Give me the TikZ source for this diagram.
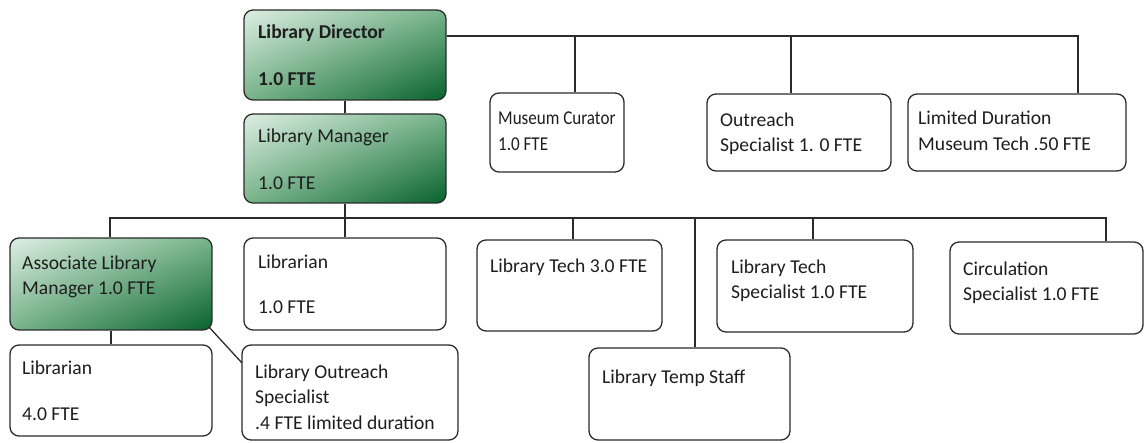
\documentclass[tikz,border=0pt]{standalone}
\usepackage{fontspec}
\setmainfont{Carlito}
\newfontfamily\narrowcarlito[FakeStretch=0.87]{Carlito}
\usetikzlibrary{calc,shadings}
\definecolor{lnc}{HTML}{2B2B2B}
\definecolor{txc}{HTML}{1E1E1E}
\definecolor{gLight}{HTML}{DDEEE2}
\definecolor{gMid}{HTML}{78B48B}
\definecolor{gDark}{HTML}{08622C}
\tikzset{
  box/.style={draw=lnc, line width=1.3pt, rounded corners=9pt, fill=white, inner sep=0pt},
  gbox/.style={box, upper left=gLight, upper right=gMid, lower left=gMid, lower right=gDark},
  lbl/.style={anchor=west, inner sep=0pt, text=txc, font=\fontsize{19.6}{25.5}\selectfont, align=left},
  conn/.style={draw=lnc, line width=1.3pt}
}
\begin{document}
\begin{tikzpicture}[x=1pt,y=-1pt]
\useasboundingbox (0,0) rectangle (1146,443);
% boxes
\node[gbox, minimum width=202pt, minimum height=90pt] (dir) at (345,55) {};
\node[gbox, minimum width=202pt, minimum height=89pt] (mgr) at (345,158.5) {};
\node[box, minimum width=134pt, minimum height=79pt] (mus) at (557,132.5) {};
\node[box, minimum width=184pt, minimum height=77pt] (outr) at (799,132.5) {};
\node[box, minimum width=218pt, minimum height=77pt] (lim) at (1017,132.5) {};
\node[gbox, minimum width=202pt, minimum height=92pt] (assoc) at (111,284) {};
\node[box, minimum width=202pt, minimum height=92pt] (lib1) at (345,284) {};
\node[box, minimum width=185pt, minimum height=91pt] (tech) at (569.5,285.5) {};
\node[box, minimum width=196pt, minimum height=92pt] (techsp) at (815,286) {};
\node[box, minimum width=193pt, minimum height=92pt] (circ) at (1046.5,288) {};
\node[box, minimum width=201pt, minimum height=92pt] (temp) at (689.5,394) {};
\node[box, minimum width=202pt, minimum height=91pt] (lib4) at (111,390.5) {};
\node[box, minimum width=216pt, minimum height=95pt] (los) at (350,392.5) {};
% texts
\node[lbl, font=\fontsize{19.6}{25.5}\selectfont\bfseries] (tdir1) at (258,33) {Library Director};
\node[lbl, font=\fontsize{19.6}{25.5}\selectfont\bfseries] (tdir2) at (258,79) {1.0 FTE};
\node[lbl] (tmgr1) at (258,137) {Library Manager};
\node[lbl] (tmgr2) at (258,183) {1.0 FTE};
\node[lbl, font=\narrowcarlito\fontsize{19.6}{25.5}\selectfont] (tmus) at (498,131) {Museum Curator\\1.0 FTE};
\node[lbl] (toutr) at (720,134) {Outreach\\Specialist 1. 0 FTE};
\node[lbl] (tlim) at (918,131) {Limited Duration\\Museum Tech .50 FTE};
\node[lbl] (tassoc) at (22,277) {Associate Library\\Manager 1.0 FTE};
\node[lbl] (tlib1a) at (258,262) {Librarian};
\node[lbl] (tlib1b) at (258,307) {1.0 FTE};
\node[lbl] (ttech) at (490,267) {Library Tech 3.0 FTE};
\node[lbl] (ttechsp) at (731,281) {Library Tech\\Specialist 1.0 FTE};
\node[lbl] (tcirc) at (963,283) {Circulation\\Specialist 1.0 FTE};
\node[lbl] (ttemp) at (602,378) {Library Temp Staff};
\node[lbl] (tlib4a) at (22,368) {Librarian};
\node[lbl] (tlib4b) at (22,414) {4.0 FTE};
\node[lbl] (tlos) at (255,397) {Library Outreach\\Specialist\\.4 FTE limited duration};
% connectors: director bus
\coordinate (busA) at (1078,36);
\coordinate (dMus) at (575,36);
\coordinate (dOut) at (791,36);
\draw[conn] (dir.east |- busA) -- (busA) -- (busA |- lim.north);
\draw[conn] (dMus) -- (dMus |- mus.north);
\draw[conn] (dOut) -- (dOut |- outr.north);
\draw[conn] (dir.south) -- (mgr.north);
% manager bus
\coordinate (busL) at (110,218);
\coordinate (busR) at (1106,218);
\coordinate (dTech) at (573,218);
\coordinate (dTemp) at (695,218);
\coordinate (dTsp) at (813,218);
\draw[conn] (mgr.south) -- (lib1.north);
\draw[conn] (busL |- assoc.north) -- (busL) -- (busR) -- (busR |- circ.north);
\draw[conn] (dTech) -- (dTech |- tech.north);
\draw[conn] (dTemp) -- (dTemp |- temp.north);
\draw[conn] (dTsp) -- (dTsp |- techsp.north);
% associate
\draw[conn] (assoc.south) -- (lib4.north);
\coordinate (losIn) at (242,363);
\draw[conn] ([shift={(-4,-4)}]assoc.south east) -- (losIn);
\end{tikzpicture}
\end{document}
